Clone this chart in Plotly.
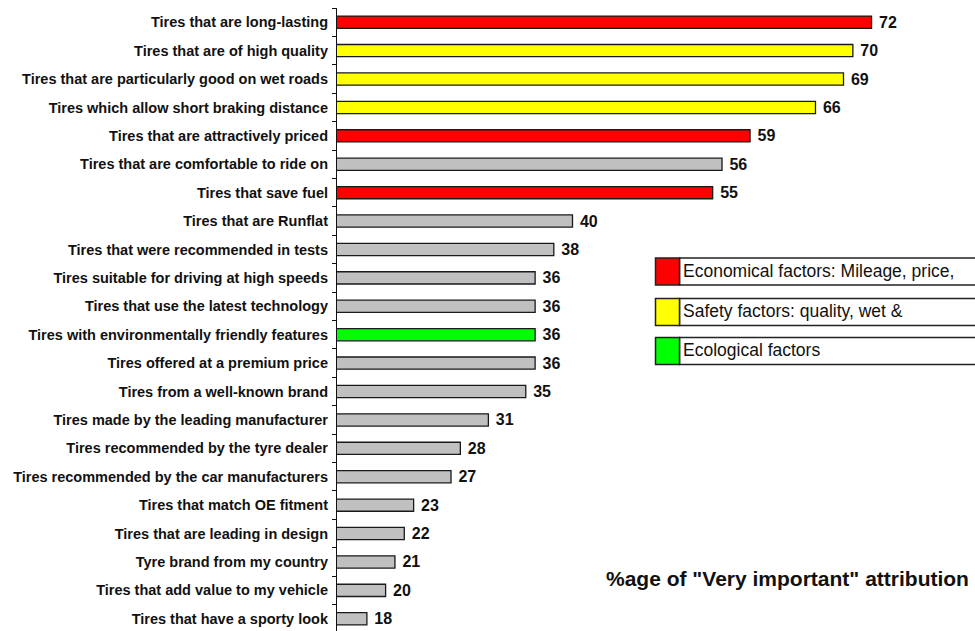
import plotly.graph_objects as go

categories = [
    "Tires that are long-lasting",
    "Tires that are of high quality",
    "Tires that are particularly good on wet roads",
    "Tires which allow short braking distance",
    "Tires that are attractively priced",
    "Tires that are comfortable to ride on",
    "Tires that save fuel",
    "Tires that are Runflat",
    "Tires that were recommended in tests",
    "Tires suitable for driving at high speeds",
    "Tires that use the latest technology",
    "Tires with environmentally friendly features",
    "Tires offered at a premium price",
    "Tires from a well-known brand",
    "Tires made by the leading manufacturer",
    "Tires recommended by the tyre dealer",
    "Tires recommended by the car manufacturers",
    "Tires that match OE fitment",
    "Tires that are leading in design",
    "Tyre brand from my country",
    "Tires that add value to my vehicle",
    "Tires that have a sporty look",
]
values = [72, 70, 69, 66, 59, 56, 55, 40, 38, 36, 36, 36, 36, 35, 31, 28, 27, 23, 22, 21, 20, 18]
groups = ["eco", "safety", "safety", "safety", "eco", "other", "eco", "other", "other", "other",
          "other", "ecol", "other", "other", "other", "other", "other", "other", "other", "other",
          "other", "other"]
group_colors = {"eco": "#FF0000", "safety": "#FFFF00", "ecol": "#00FF00", "other": "#C0C0C0"}
legend_labels = ["Economical factors: Mileage, price,", "Safety factors: quality, wet &", "Ecological factors"]
legend_colors = ["#FF0000", "#FFFF00", "#00FF00"]
note = '%age of "Very important" attribution'

W, H = 975, 631
ML, MR, MT, MB = 337, 10, 8, 0
PW, PH = W - ML - MR, H - MT - MB


def px(x):
    return (x - ML) / PW


def py(y):
    return 1 - (y - MT) / PH


fig = go.Figure(go.Bar(
    x=values, y=categories, orientation="h",
    marker=dict(color=[group_colors[g] for g in groups], line=dict(color="#1a1a1a", width=1.3)),
    width=0.43,
    text=values, texttemplate="\u00a0%{x}", textposition="outside",
    textfont=dict(family="Liberation Sans, Arial", size=16, color="#111", weight="bold"),
    constraintext="none", cliponaxis=False,
))

fig.update_layout(
    width=W, height=H, margin=dict(l=ML, r=MR, t=MT, b=MB, autoexpand=False),
    plot_bgcolor="white", paper_bgcolor="white", showlegend=False,
    xaxis=dict(range=[14.8, 82], visible=False, automargin=False),
    yaxis=dict(type="category", categoryorder="array", categoryarray=categories,
               range=[21.43, -0.5], showline=True, linecolor="#111", linewidth=1.2,
               ticks="outside", tickson="boundaries", ticklen=4, tickcolor="#111",
               ticklabelstandoff=5,
               tickfont=dict(family="Liberation Sans, Arial", size=14.5, color="#111", weight="bold"),
               showgrid=False, automargin=False),
)

box_rows = [(258, 285), (298.5, 325.5), (337.5, 364.5)]
for (y0, y1), lab, col in zip(box_rows, legend_labels, legend_colors):
    fig.add_shape(type="rect", xref="paper", yref="paper", x0=px(679.5), x1=px(990),
                  y0=py(y1), y1=py(y0), fillcolor="white", line=dict(color="#222", width=1.5))
    fig.add_shape(type="rect", xref="paper", yref="paper", x0=px(655.5), x1=px(679.5),
                  y0=py(y1), y1=py(y0), fillcolor=col, line=dict(color="#222", width=1.5))
    fig.add_annotation(text=lab, xref="paper", yref="paper", x=px(681), y=py(y0 + 0.5),
                       xanchor="left", yanchor="top", showarrow=False,
                       font=dict(family="Liberation Sans, Arial", size=17.5, color="#111"))

fig.add_annotation(text=note, xref="paper", yref="paper", x=px(787), y=py(578),
                   xanchor="center", yanchor="middle", showarrow=False,
                   font=dict(family="Liberation Sans, Arial", size=21, color="#111", weight="bold"))

fig.write_html("out.html", config={"displayModeBar": False},
               post_script="document.body.style.margin='0';")
